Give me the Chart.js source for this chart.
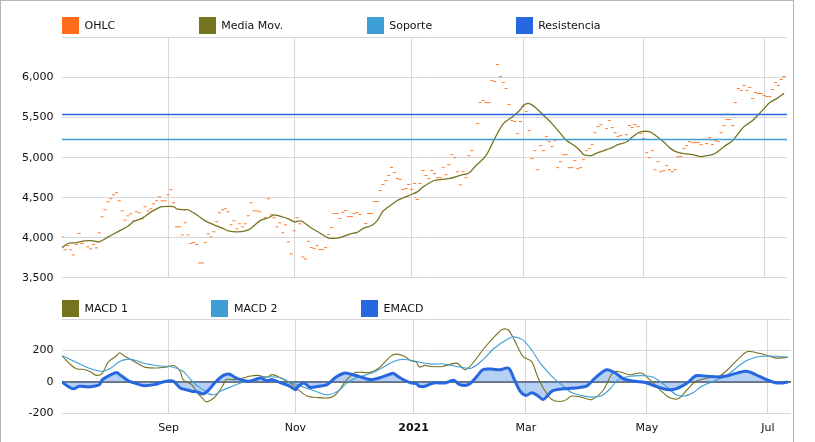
<!DOCTYPE html>
<html><head><meta charset="utf-8">
<script src="https://cdn.jsdelivr.net/npm/chart.js@4/dist/chart.umd.min.js"></script>
<style>
html,body{margin:0;padding:0;background:#fff;width:815px;height:442px;overflow:hidden;font-family:"DejaVu Sans",Verdana,sans-serif;}
#frame{position:absolute;left:0;top:0;width:794px;height:470px;border:1px solid #b3b7bc;box-sizing:border-box;pointer-events:none;}
.legend{position:absolute;left:62px;display:flex;align-items:center;font-size:11px;color:#111;white-space:nowrap;}
.legend .item{display:flex;align-items:center;margin-right:83.5px;}
.legend .box{width:17px;height:17px;margin-right:5.5px;}
#c1{position:absolute;left:0;top:0;}
#c2{position:absolute;left:0;top:290px;}
</style></head>
<body>
<canvas id="c1" width="792" height="293"></canvas>
<canvas id="c2" width="792" height="152"></canvas>
<div class="legend" id="lg1" style="top:17px;height:17px;"></div>
<div class="legend" id="lg2" style="top:300px;height:17px;"></div>
<div id="frame"></div>
<script>
// ---- session-indexed data (one entry per trading session; null = not read) ----
const ohlcClose = [
4012,3850,3903,3850,3787,3916,4054,3929,null,3887,
3862,3916,3875,4062,4262,4350,4450,4487,4537,4562,
4462,4337,4220,4275,4300,4212,4325,4312,4237,4387,
4337,4362,4425,4462,4512,4462,4462,4537,4600,4437,
4137,4137,4037,4187,4037,3929,3941,3916,3687,3687,
3941,4050,4012,4075,4200,4312,4350,4362,4325,4162,
4212,4112,4175,4137,4175,4275,4437,4337,4337,4325,
null,4250,4487,4287,4250,4137,4187,4062,4162,3950,
3800,4087,4250,4175,3762,3737,3956,3878,3865,3903,
3853,3853,3878,4040,4128,4303,4303,4240,4319,4340,
4265,4265,4303,4315,4290,null,4178,4303,4303,4453,
4453,4590,4665,4715,4778,4878,4815,4740,4728,4603,
4615,4665,4603,4678,4478,4678,4840,4778,4740,4840,
4800,4750,4750,4875,4787,4912,5037,5000,4825,4662,
4825,4750,5025,5087,null,5425,5687,5712,5687,5687,
5962,5950,6162,6012,5937,5862,5662,5462,5450,5300,
5450,5637,5575,5337,4987,5087,4850,5150,5087,5262,
5200,5137,5212,4875,4950,5037,5037,4875,4875,4962,
4862,4875,4975,5087,5112,5162,5312,5387,5412,null,
5362,5462,5375,5312,5262,5275,null,5287,5400,5375,
5412,5387,5300,5237,5062,5000,5087,4850,4950,4825,
4837,4900,4850,4825,4850,5012,5012,5112,5150,5200,
5187,5187,5187,5162,null,5175,5250,5162,5212,5200,
5312,5400,5475,5475,5400,5687,5862,5837,5900,5837,
5875,5737,5812,5800,5800,5775,5762,5762,5850,5937,
5900,5975,6012
];
const maIdx = [0,2,5,8,11,13,16,20,23,25,28,31,34,35,39,40,43,44,47,50,53,56,58,61,64,66,69,72,74,76,79,81,83,84,86,87,90,93,96,98,101,103,105,108,110,112,115,117,119,121,124,126,130,135,139,142,144,148,151,154,157,160,161,163,165,168,171,174,176,179,181,182,184,185,187,190,192,194,197,199,201,202,205,207,210,212,214,217,220,223,224,227,229,231,234,236,238,241,243,245,247,250,252];
const maVal = [3875,3929,3941,3962,3962,3950,4008,4087,4145,4204,4245,4320,4379,4390,4390,4362,4350,4350,4287,4212,4162,4120,4087,4075,4087,4120,4212,4250,4287,4270,4237,4200,4212,4200,4150,4122,4060,3997,3997,4015,4052,4068,4115,4153,4215,4331,4415,4465,4497,4527,4573,4635,4715,4737,4779,4808,4883,5029,5237,5425,5504,5600,5654,5675,5633,5529,5425,5300,5216,5145,5079,5037,5025,5029,5062,5100,5125,5162,5195,5258,5308,5325,5325,5279,5195,5125,5079,5050,5037,5012,5020,5037,5079,5137,5212,5300,5387,5462,5537,5612,5687,5750,5804];
const soporte = 5225;
const resistencia = 5537;

const macd1Idx = [0,3,5,8,10,12,14,16,19,20,21,24,27,29,33,36,39,41,42,45,47,49,50,52,54,56,57,60,63,65,68,71,73,76,78,80,82,85,89,93,95,98,100,102,107,110,114,116,119,121,123,124,126,128,132,137,140,143,146,150,153,155,157,160,163,165,167,170,174,177,181,184,188,191,193,197,201,204,208,211,214,217,220,224,228,231,235,238,242,246,248,252];
const macd1Val = [167,110,85,78,63,42,57,125,169,186,174,142,110,93,89,95,104,68,15,-17,-70,-108,-127,-112,-76,-17,15,15,25,36,42,30,47,25,4,-17,-49,-90,-100,-100,-80,-6,36,61,61,89,163,178,163,135,127,95,106,99,99,120,78,130,204,288,337,330,267,162,130,36,-38,-112,-122,-90,-101,-112,-48,57,67,46,57,15,-59,-101,-105,-48,4,25,36,78,152,194,183,162,152,158];
const macd2Idx = [0,2,5,8,11,14,17,20,23,26,28,31,34,38,42,44,46,49,51,53,55,59,62,66,68,70,74,76,78,80,84,88,91,93,96,99,102,105,108,111,114,117,120,123,128,132,137,142,146,150,155,157,160,163,166,170,174,177,183,187,190,193,197,202,205,209,213,216,219,222,228,231,237,242,246,252];
const macd2Val = [167,152,125,99,78,68,89,131,146,135,121,110,102,97,68,30,-11,-49,-76,-80,-59,-28,-6,15,25,32,32,25,8,-8,-34,-59,-80,-80,-55,-6,25,42,61,89,121,142,142,131,114,116,99,88,141,215,278,288,267,204,120,36,-27,-69,-95,-90,-48,15,36,40,32,-17,-80,-90,-69,-27,19,46,130,162,166,158];
const emacdIdx = [0,2,4,6,9,11,13,14,17,19,20,23,25,28,32,35,38,39,41,43,45,47,49,51,53,56,58,60,62,65,67,69,71,73,76,79,81,82,84,86,89,92,95,98,100,103,107,110,114,115,117,121,123,124,126,129,133,136,138,141,144,146,149,152,155,157,159,161,163,165,167,170,172,174,178,182,185,189,192,195,199,202,206,210,213,217,220,224,228,231,235,238,242,245,248,250,252];
const emacdVal = [0,-27,-44,-27,-32,-27,-17,15,47,61,47,8,-6,-23,-17,0,8,0,-38,-49,-59,-63,-76,-49,-6,42,51,30,15,4,15,25,8,15,-6,-27,-49,-27,-6,-34,-27,-17,30,57,51,36,15,25,51,55,30,-6,-11,-27,-27,-6,-6,11,-17,-17,36,78,82,78,88,15,-59,-86,-69,-86,-112,-59,-48,-44,-38,-27,25,78,57,19,4,-2,-27,-48,-44,-6,40,36,32,40,61,67,36,11,-6,-6,0];

const monthIdx = [37,81,122,161,203,245];
const monthLabels = ['Sep','Nov','2021','Mar','May','Jul'];
const priceTicks = [3500,4000,4500,5000,5500,6000,6500];
const macdTicks = [-200,0,200,400];

// ---- colours ----
const C = {ohlc:'#ff6d1a', ma:'#76731f', sop:'#3d9fd6', res:'#2767e0', m1:'#76731f', m2:'#3d9fd6', em:'#2767e0'};
const FONT = '"DejaVu Sans", Verdana, sans-serif';
const GRID = '#d7d7d7';
const nSessions = ohlcClose.length;

function pts(idx, val){ return idx.map((x,i)=>({x:x, y:val[i]})); }
const ohlcPts = ohlcClose.map((v,i)=> v===null?null:{x:i,y:v}).filter(p=>p);

function legend(el, items){
  el.innerHTML = items.map(([t,c])=>`<div class="item"><div class="box" style="background:${c}"></div><span>${t}</span></div>`).join('');
}
legend(document.getElementById('lg1'), [['OHLC',C.ohlc],['Media Mov.',C.ma],['Soporte',C.sop],['Resistencia',C.res]]);
legend(document.getElementById('lg2'), [['MACD 1',C.m1],['MACD 2',C.m2],['EMACD',C.em]]);

Chart.defaults.font.family = FONT;
Chart.defaults.font.size = 11;
Chart.defaults.color = '#111';

function xAxis(showLabels){
  return {
    type:'linear', min:0, max:nSessions,
    afterBuildTicks: s => { s.ticks = monthIdx.map(v=>({value:v})); },
    afterFit: s => { if(!showLabels) s.height = 0; else s.height = 28.7; },
    grid:{color:GRID, drawTicks:false, lineWidth:1},
    border:{display:false},
    ticks:{
      display:showLabels, padding:8, maxRotation:0, autoSkip:false, color:'#111',
      callback: v => monthLabels[monthIdx.indexOf(v)],
      font: ctx => ({family:FONT, size:11, weight: (ctx.tick && ctx.tick.label==='2021') ? 'bold' : 'normal'})
    }
  };
}

new Chart(document.getElementById('c1'), {
  type:'line',
  data:{datasets:[
    {label:'Resistencia', data:[{x:0,y:resistencia},{x:nSessions,y:resistencia}], borderColor:C.res, borderWidth:1.5, pointRadius:0},
    {label:'Soporte', data:[{x:0,y:soporte},{x:nSessions,y:soporte}], borderColor:C.sop, borderWidth:1.5, pointRadius:0},
    {label:'Media Mov.', data:pts(maIdx,maVal), borderColor:C.ma, borderWidth:1.3, pointRadius:0, tension:0.3},
    {label:'OHLC', data:ohlcPts, showLine:false, pointStyle:'line', pointRadius:1.5, pointBorderWidth:1, pointBorderColor:'#ff7a2a', borderColor:'#ff7a2a'}
  ]},
  options:{
    responsive:false, animation:false, devicePixelRatio:1,
    layout:{padding:{top:37.4, right:1, bottom:1.3, left:0}},
    plugins:{legend:{display:false}, tooltip:{enabled:false}},
    scales:{
      x: xAxis(false),
      y:{
        min:3500, max:6500,
        afterBuildTicks: s => { s.ticks = priceTicks.map(v=>({value:v})); },
        afterFit: s => { s.width = 62; },
        grid:{color:GRID, drawTicks:false},
        border:{display:false},
        ticks:{padding:8.5, color:'#111', callback: v => v===6500 ? '' : v.toLocaleString('en-US')}
      }
    }
  }
});

new Chart(document.getElementById('c2'), {
  type:'line',
  data:{datasets:[
    {label:'EMACD', data:pts(emacdIdx,emacdVal), borderColor:C.em, borderWidth:3, pointRadius:0, tension:0.3,
     fill:'origin', backgroundColor:'rgba(80,140,230,0.42)'},
    {label:'MACD 2', data:pts(macd2Idx,macd2Val), borderColor:C.m2, borderWidth:1.1, pointRadius:0, tension:0.3},
    {label:'MACD 1', data:pts(macd1Idx,macd1Val), borderColor:C.m1, borderWidth:1.1, pointRadius:0, tension:0.3}
  ]},
  options:{
    responsive:false, animation:false, devicePixelRatio:1,
    layout:{padding:{top:29.3, right:1, bottom:0, left:0}},
    plugins:{legend:{display:false}, tooltip:{enabled:false}, filler:{drawTime:'beforeDatasetsDraw'}},
    scales:{
      x: xAxis(true),
      y:{
        min:-200, max:400,
        afterBuildTicks: s => { s.ticks = macdTicks.map(v=>({value:v})); },
        afterFit: s => { s.width = 62; },
        grid:{drawTicks:false, color: c => c.tick && c.tick.value===0 ? '#6f747a' : GRID, lineWidth: c => c.tick && c.tick.value===0 ? 2 : 1},
        border:{display:false},
        ticks:{padding:8.5, color:'#111', callback: v => v===400 ? '' : String(v)}
      }
    }
  }
});
</script>
</body></html>
